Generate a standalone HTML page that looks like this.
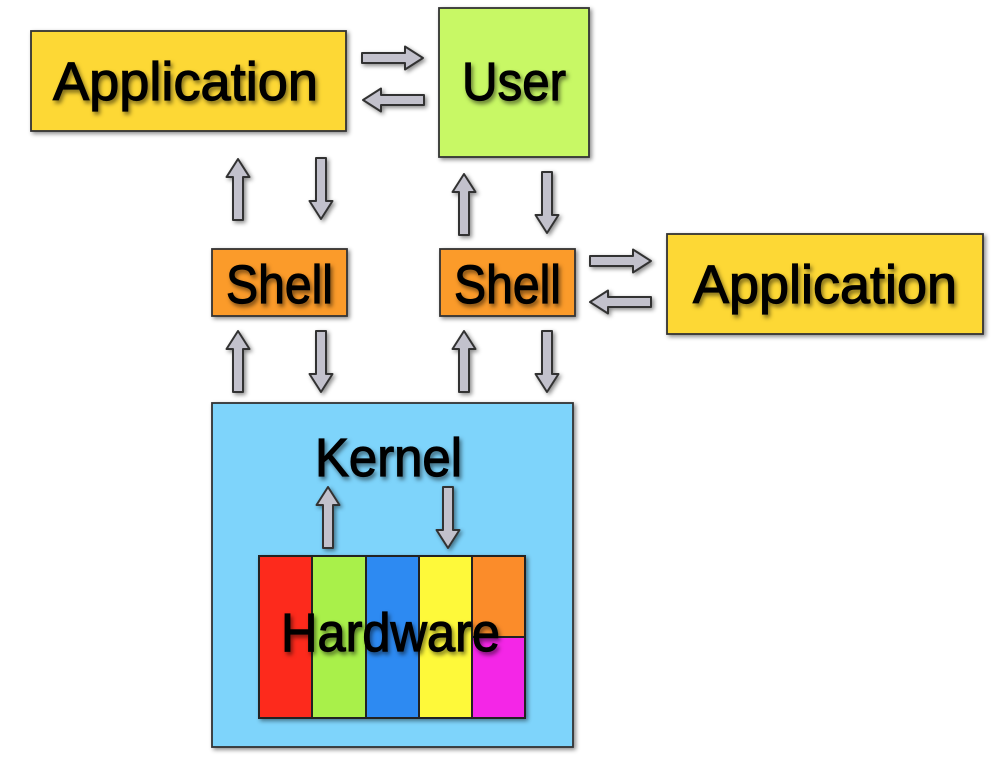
<!DOCTYPE html>
<html><head><meta charset="utf-8"><style>html,body{margin:0;padding:0;background:#fff}svg{display:block}</style></head>
<body>
<svg width="1000" height="766" viewBox="0 0 1000 766" xmlns="http://www.w3.org/2000/svg" font-family="'Liberation Sans', sans-serif">
<defs>
<filter id="sh" x="-20%" y="-20%" width="140%" height="140%"><feDropShadow dx="2" dy="2" stdDeviation="2" flood-color="#000" flood-opacity="0.45"/></filter>
<filter id="ts" x="-10%" y="-20%" width="120%" height="140%"><feDropShadow dx="2" dy="3" stdDeviation="2" flood-color="#000" flood-opacity="0.5"/></filter>
<g id="ar"><path d="M0,-5 L43,-5 L43,-11.5 L61,0 L43,11.5 L43,5 L0,5 Z" fill="#c2c1cc" stroke="#333" stroke-width="2" stroke-linejoin="round"/></g>
</defs>
<g stroke="#333" stroke-width="1.8" filter="url(#sh)">
<rect x="31" y="31" width="315" height="100" fill="#fdd835"/>
<rect x="439" y="8" width="150" height="149" fill="#c8f865"/>
<rect x="212" y="249" width="135" height="67" fill="#fb9b2a"/>
<rect x="440" y="249" width="135" height="67" fill="#fb9b2a"/>
<rect x="667" y="234" width="316" height="100" fill="#fdd835"/>
<rect x="212" y="403" width="361" height="344" fill="#7ed4fb"/>
</g>
<g stroke="#222" stroke-width="2">
<rect x="259" y="556" width="266" height="162" fill="#fd2a1e" filter="url(#sh)"/>
<rect x="312" y="556" width="54" height="162" fill="#a9f04a"/>
<rect x="366" y="556" width="53" height="162" fill="#2d8af2"/>
<rect x="419" y="556" width="53" height="162" fill="#fef93a"/>
<rect x="472" y="556" width="53" height="81" fill="#fb8c2a"/>
<rect x="472" y="637" width="53" height="81" fill="#f426e7"/>
</g>
<g filter="url(#sh)">
<use href="#ar" transform="translate(362,58)"/>
<use href="#ar" transform="translate(424,100) rotate(180)"/>
<use href="#ar" transform="translate(590,261)"/>
<use href="#ar" transform="translate(651,302) rotate(180)"/>
<use href="#ar" transform="translate(238,220) rotate(-90)"/>
<use href="#ar" transform="translate(321,158) rotate(90)"/>
<use href="#ar" transform="translate(464,235) rotate(-90)"/>
<use href="#ar" transform="translate(547,172) rotate(90)"/>
<use href="#ar" transform="translate(238,392) rotate(-90)"/>
<use href="#ar" transform="translate(321,331) rotate(90)"/>
<use href="#ar" transform="translate(464,392) rotate(-90)"/>
<use href="#ar" transform="translate(547,331) rotate(90)"/>
<use href="#ar" transform="translate(328,548) rotate(-90)"/>
<use href="#ar" transform="translate(448,487) rotate(90)"/>
</g>
<g fill="#000" stroke="#000" stroke-width="1.2" filter="url(#ts)" font-size="54">
<text x="53" y="100" textLength="265" lengthAdjust="spacingAndGlyphs">Application</text>
<text x="462" y="100" textLength="104" lengthAdjust="spacingAndGlyphs">User</text>
<text x="226" y="303" textLength="107" lengthAdjust="spacingAndGlyphs">Shell</text>
<text x="454" y="303" textLength="107" lengthAdjust="spacingAndGlyphs">Shell</text>
<text x="693" y="303" textLength="264" lengthAdjust="spacingAndGlyphs">Application</text>
<text x="315" y="476" textLength="147" lengthAdjust="spacingAndGlyphs">Kernel</text>
<text x="281" y="651" textLength="219" lengthAdjust="spacingAndGlyphs">Hardware</text>
</g>
</svg>
</body></html>
